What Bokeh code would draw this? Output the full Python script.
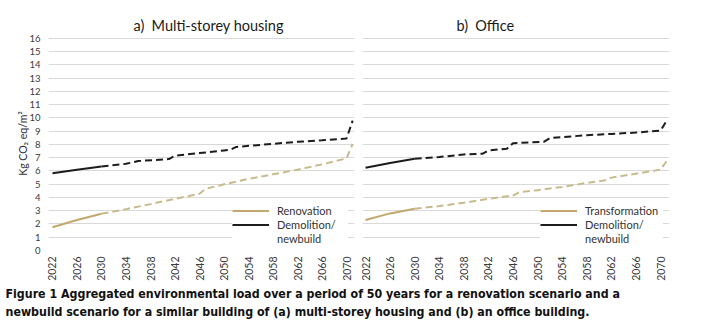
from bokeh.plotting import figure
from bokeh.models import Range1d, FixedTicker, Legend, LegendItem, Label
from bokeh.layouts import column, row
from bokeh.embed import file_html
from bokeh.resources import INLINE
import math

# ---------------- data ----------------
year_ticks = list(range(2022, 2071, 4))
y_ticks = list(range(0, 17))
split_year = 2030

housing_reno_years = [2022, 2026, 2030, 2034, 2038, 2042, 2046, 2047, 2050, 2054, 2058, 2062, 2066, 2070, 2071]
housing_reno_vals = [1.76, 2.3, 2.77, 3.12, 3.5, 3.9, 4.28, 4.65, 5.0, 5.4, 5.75, 6.1, 6.5, 6.95, 8.05]

housing_new_years = [2022, 2026, 2030, 2034, 2036, 2041, 2042, 2046, 2050, 2051, 2052, 2058, 2062, 2066, 2070, 2071]
housing_new_vals = [5.83, 6.1, 6.34, 6.54, 6.75, 6.9, 7.15, 7.35, 7.55, 7.6, 7.82, 8.05, 8.2, 8.32, 8.45, 9.8]

office_trans_years = [2022, 2026, 2030, 2034, 2038, 2042, 2046, 2047, 2050, 2054, 2058, 2061, 2062, 2066, 2070, 2071]
office_trans_vals = [2.3, 2.8, 3.15, 3.35, 3.6, 3.9, 4.15, 4.4, 4.55, 4.8, 5.1, 5.3, 5.5, 5.8, 6.1, 6.75]

office_new_years = [2022, 2026, 2030, 2034, 2038, 2041, 2042, 2045, 2046, 2051, 2052, 2058, 2062, 2066, 2070, 2071]
office_new_vals = [6.24, 6.6, 6.92, 7.05, 7.25, 7.3, 7.55, 7.68, 8.1, 8.2, 8.48, 8.7, 8.8, 8.9, 9.05, 9.8]

titles = ["a)\u2002Multi-storey housing", "b)\u2002Office"]
legend_labels_a = ["Renovation", "Demolition/", "newbuild"]
legend_labels_b = ["Transformation", "Demolition/", "newbuild"]
y_label = "Kg CO\u2082 eq/m\u00b2"
caption_lines = [
    "Figure 1 Aggregated environmental load over a period of 50 years for a renovation scenario and a",
    "newbuild scenario for a similar building of (a) multi-storey housing and (b) an office building.",
]

GOLD = "#C2A86C"
GOLD_DASH = "#C9BA8E"
BLACK = "#1C1C1C"
FONT = "Lato"


def split(years, vals):
    s_x = [y for y in years if y <= split_year]
    s_y = [v for y, v in zip(years, vals) if y <= split_year]
    d_x = [y for y in years if y >= split_year]
    d_y = [v for y, v in zip(years, vals) if y >= split_year]
    return s_x, s_y, d_x, d_y


def make_panel(title, title_offset, light_years, light_vals, dark_years, dark_vals, labels,
               width, xr, border_left, border_right, show_y, legend_x, label_width):
    p = figure(width=width, height=285, output_backend="svg", toolbar_location=None,
               x_range=Range1d(*xr), y_range=Range1d(0, 16.15),
               min_border_left=border_left, min_border_right=border_right,
               min_border_top=36, min_border_bottom=35)
    p.title.text = title
    p.title.align = "left"
    p.title.offset = title_offset
    p.title.text_font = FONT
    p.title.text_font_size = "14.5px"
    p.title.text_font_style = "normal"
    p.title.text_color = "#1a1a1a"
    p.title.standoff = 5
    p.outline_line_color = None
    p.xgrid.grid_line_color = None
    p.ygrid.grid_line_color = "#D9D9D9"
    p.ygrid.grid_line_width = 1
    p.ygrid.ticker = FixedTicker(ticks=y_ticks)

    p.xaxis.ticker = FixedTicker(ticks=year_ticks)
    p.xaxis.major_label_orientation = math.pi / 2
    p.xaxis.axis_line_color = None
    p.xaxis.major_tick_line_color = None
    p.xaxis.major_tick_out = 0
    p.xaxis.major_tick_in = 0
    p.xaxis.minor_tick_line_color = None
    p.xaxis.major_label_text_font = FONT
    p.xaxis.major_label_text_font_size = "10.5px"
    p.xaxis.major_label_text_color = "#3a3a3a"
    p.xaxis.major_label_standoff = 6

    p.yaxis.ticker = FixedTicker(ticks=y_ticks)
    p.yaxis.axis_line_color = None
    p.yaxis.major_tick_line_color = None
    p.yaxis.major_tick_out = 0
    p.yaxis.major_tick_in = 0
    p.yaxis.minor_tick_line_color = None
    p.yaxis.major_label_text_font = FONT
    p.yaxis.major_label_text_font_size = "9.5px"
    p.yaxis.major_label_text_color = "#3a3a3a"
    p.yaxis.major_label_standoff = 8
    if show_y:
        p.yaxis.axis_label = y_label
        p.yaxis.axis_label_text_font = FONT
        p.yaxis.axis_label_text_font_size = "10.5px"
        p.yaxis.axis_label_text_font_style = "normal"
        p.yaxis.axis_label_text_color = "#333333"
        p.yaxis.axis_label_standoff = -3
    else:
        p.yaxis.visible = False

    ls_x, ls_y, ld_x, ld_y = split(light_years, light_vals)
    ds_x, ds_y, dd_x, dd_y = split(dark_years, dark_vals)
    r1 = p.line(ls_x, ls_y, line_color=GOLD, line_width=2)
    p.line(ld_x, ld_y, line_color=GOLD_DASH, line_width=2, line_dash="7 4")
    r2 = p.line(ds_x, ds_y, line_color=BLACK, line_width=2)
    p.line(dd_x, dd_y, line_color=BLACK, line_width=2, line_dash="7 4")
    # invisible renderer used only for the second line of a legend label
    r_blank = p.line(x=[], y=[], line_alpha=0)

    legend = Legend(items=[LegendItem(label=labels[0], renderers=[r1]),
                           LegendItem(label=labels[1], renderers=[r2]),
                           LegendItem(label=labels[2], renderers=[r_blank])],
                    location=(legend_x, 5))
    legend.background_fill_color = "white"
    legend.background_fill_alpha = 1
    legend.border_line_color = None
    legend.label_text_font = FONT
    legend.label_text_font_size = "11px"
    legend.label_text_color = "#333333"
    legend.label_height = 13
    legend.glyph_height = 13
    legend.glyph_width = 37
    legend.label_standoff = 8
    legend.label_width = label_width
    legend.padding = 3
    legend.spacing = 1
    legend.margin = 0
    p.add_layout(legend, "center")
    return p


pa = make_panel(titles[0], 85, housing_reno_years, housing_reno_vals,
                housing_new_years, housing_new_vals, legend_labels_a,
                355, (2021.35, 2071.3), 48, 1, True, 184, 71)
pb = make_panel(titles[1], 94, office_trans_years, office_trans_vals,
                office_new_years, office_new_vals, legend_labels_b,
                347, (2021.51, 2071.46), 7, 33, False, 178, 78)

cap = figure(width=702, height=43, output_backend="svg", toolbar_location=None,
             x_range=Range1d(0, 702), y_range=Range1d(0, 43),
             min_border=0)
cap.axis.visible = False
cap.grid.visible = False
cap.outline_line_color = None
for i, t in enumerate(caption_lines):
    cap.add_layout(Label(x=5, y=35 - 18 * i, x_units="screen", y_units="screen", text=t,
                         text_font="DejaVu Sans Condensed", text_font_style="bold",
                         text_font_size="12.3px", text_baseline="middle", text_color="#111111"))

layout = column(row(pa, pb), cap)
open("out.html", "w").write(file_html(layout, INLINE))
